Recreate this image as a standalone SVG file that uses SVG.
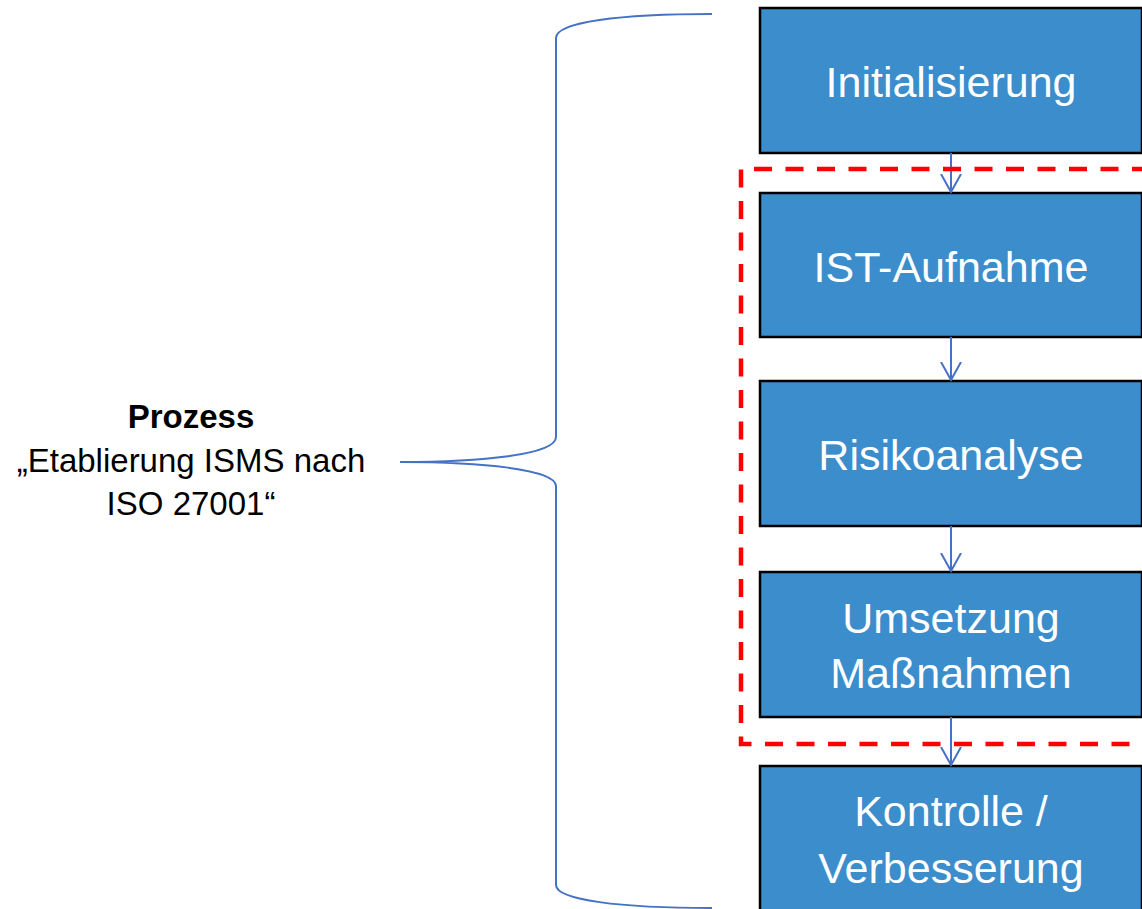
<svg xmlns="http://www.w3.org/2000/svg" width="1142" height="909" viewBox="0 0 1142 909">
<defs>
<style>
.box{fill:#3B8DCB;stroke:#000;stroke-width:2.5}
.bt{font-family:"Liberation Sans",Arial,sans-serif;font-size:43px;fill:#fff;text-anchor:middle}
.lt{font-family:"Liberation Sans",Arial,sans-serif;font-size:33px;fill:#000;text-anchor:middle}
.conn{stroke:#4472C4;stroke-width:2;fill:none}
</style>
<marker id="arr" viewBox="0 0 20 24" refX="18" refY="12" markerWidth="20" markerHeight="24" markerUnits="userSpaceOnUse" orient="auto">
<path d="M0,2 L18,12 L0,22" fill="none" stroke="#4472C4" stroke-width="2"/>
</marker>
</defs>
<rect width="1142" height="909" fill="#fff"/>
<g id="label">
<text class="lt" x="191" y="428" font-weight="bold">Prozess</text>
<text class="lt" x="191" y="472">„Etablierung ISMS nach</text>
<text class="lt" x="191" y="515">ISO 27001“</text>
</g>
<g id="brace">
<path class="conn" d="M712,14 C620,14 556,22 556,38 L556,437 C556,455 480,462 400,462 C480,462 556,469 556,486 L556,885 C556,900 620,908 712,908"/>
</g>
<g id="node1">
<rect class="box" x="760" y="8" width="382" height="145"/>
<text class="bt" x="951" y="97">Initialisierung</text>
</g>
<g id="node2">
<rect class="box" x="760" y="193" width="382" height="144"/>
<text class="bt" x="951" y="282">IST-Aufnahme</text>
</g>
<g id="node3">
<rect class="box" x="760" y="381" width="382" height="145"/>
<text class="bt" x="951" y="470">Risikoanalyse</text>
</g>
<g id="node4">
<rect class="box" x="760" y="572" width="382" height="145"/>
<text class="bt" x="951" y="633">Umsetzung</text>
<text class="bt" x="951" y="688">Maßnahmen</text>
</g>
<g id="node5">
<rect class="box" x="760" y="766" width="382" height="150"/>
<text class="bt" x="951" y="826">Kontrolle /</text>
<text class="bt" x="951" y="883">Verbesserung</text>
</g>
<g id="connectors">
<line class="conn" x1="951" y1="153" x2="951" y2="192" marker-end="url(#arr)"/>
<line class="conn" x1="951" y1="337" x2="951" y2="380" marker-end="url(#arr)"/>
<line class="conn" x1="951" y1="526" x2="951" y2="571" marker-end="url(#arr)"/>
<line class="conn" x1="951" y1="717" x2="951" y2="765" marker-end="url(#arr)"/>
</g>
<g id="dashed-region">
<path d="M1150,169 L741,169 L741,744 L1150,744" fill="none" stroke="#FF0000" stroke-width="4.5" stroke-dasharray="18 13.5"/>
</g>
</svg>
